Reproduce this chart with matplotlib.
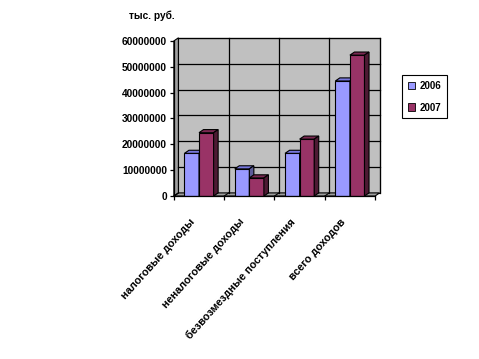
import numpy as np
import matplotlib.pyplot as plt
import matplotlib.transforms as mtransforms

categories = ["налоговые доходы", "неналоговые доходы",
              "безвозмездные поступления", "всего доходов"]
years = ["2006", "2007"]
values_2006 = [16500000, 10500000, 16500000, 44500000]
values_2007 = [24500000, 7000000, 22000000, 54500000]
y_ticks = [0, 10000000, 20000000, 30000000, 40000000, 50000000, 60000000]

front = ["#9999ff", "#993366"]
top = ["#7777dd", "#7a2952"]
side = ["#5c5c99", "#4d1a33"]

plt.rcParams['font.family'] = ['Liberation Sans', 'DejaVu Sans']

fig = plt.figure(figsize=(4.79, 3.59), dpi=100)
ax = fig.add_axes([0.363, 0.454, 0.42, 0.432])
ax.set_xlim(-0.5, 3.5)
ax.set_ylim(0, 60000000)
for s in ax.spines.values():
    s.set_visible(False)
ax.patch.set_visible(False)

# depth of the pseudo 3d effect
dx = 0.09
dy = 1200000
ymax = y_ticks[-1]
x_left, x_right = -0.5, 3.5

# back wall, floor and side wall
ax.fill([x_left + dx, x_right + dx, x_right + dx, x_left + dx],
        [dy, dy, ymax + dy, ymax + dy], color="#c0c0c0", ec="black", lw=0.8, clip_on=False, zorder=0)
ax.fill([x_left, x_right, x_right + dx, x_left + dx],
        [0, 0, dy, dy], color="#a0a0a0", ec="black", lw=0.8, clip_on=False, zorder=1)
ax.fill([x_left, x_left + dx, x_left + dx, x_left],
        [0, dy, ymax + dy, ymax], color="#a0a0a0", ec="black", lw=0.8, clip_on=False, zorder=1)
for t in y_ticks[1:]:
    ax.plot([x_left + dx, x_right + dx], [t + dy, t + dy], color="black", lw=0.9, clip_on=False, zorder=1)
for b in np.arange(len(categories)) + 0.5:
    ax.plot([b + dx, b + dx], [dy, ymax + dy], color="black", lw=0.9, clip_on=False, zorder=1)
for b in np.arange(len(categories)) - 0.5:
    ax.plot([b, b + dx], [0, dy], color="black", lw=0.8, clip_on=False, zorder=1)

w = 0.29
x = np.arange(len(categories))
for i, vals in enumerate([values_2006, values_2007]):
    pos = x - w + i * w
    ax.bar(pos, vals, width=w, align='edge', color=front[i], ec="black", lw=0.8,
           label=years[i], zorder=3 + i)
    for x0, h in zip(pos, vals):
        ax.fill([x0, x0 + w, x0 + w + dx, x0 + dx], [h, h, h + dy, h + dy],
                color=top[i], ec="black", lw=0.8, zorder=3 + i, clip_on=False)
        ax.fill([x0 + w, x0 + w + dx, x0 + w + dx, x0 + w], [0, dy, h + dy, h],
                color=side[i], ec="black", lw=0.8, zorder=3 + i, clip_on=False)

# axes lines
ax.plot([x_left, x_left], [0, ymax], color="black", lw=0.9, clip_on=False, zorder=6)
ax.plot([x_left, x_right], [0, 0], color="black", lw=0.9, clip_on=False, zorder=6)
ax.set_yticks(y_ticks)
ax.set_yticklabels([str(t) for t in y_ticks], fontsize=7.3, fontweight='bold')
ax.tick_params(axis='y', length=3, width=0.9, pad=2)
ax.set_xticks(np.arange(len(categories) + 1) - 0.5, minor=True)
ax.tick_params(axis='x', which='minor', length=3, width=0.9)
ax.set_xticks(x)
ax.set_xticklabels(categories, rotation=48, ha='right', rotation_mode='anchor',
                   fontsize=7.8, fontweight='bold')
ax.tick_params(axis='x', which='major', length=0, pad=15)
shift = mtransforms.ScaledTranslation(-0.1, 0, fig.dpi_scale_trans)
for lab in ax.get_xticklabels():
    lab.set_transform(lab.get_transform() + shift)

fig.text(0.27, 0.955, "тыс. руб.", fontsize=7.3, fontweight='bold', ha='left', va='center')

leg = fig.legend(loc='upper left', bbox_to_anchor=(0.839, 0.791), borderaxespad=0,
                 prop={'weight': 'bold', 'size': 7}, fancybox=False, edgecolor='black',
                 handlelength=0.8, handleheight=0.8, borderpad=0.6, labelspacing=1.2,
                 handletextpad=0.4, framealpha=1)
leg.get_frame().set_linewidth(0.8)
for h in leg.legend_handles:
    h.set_edgecolor("black")
    h.set_linewidth(0.6)

fig.savefig("out.png", dpi=100)
